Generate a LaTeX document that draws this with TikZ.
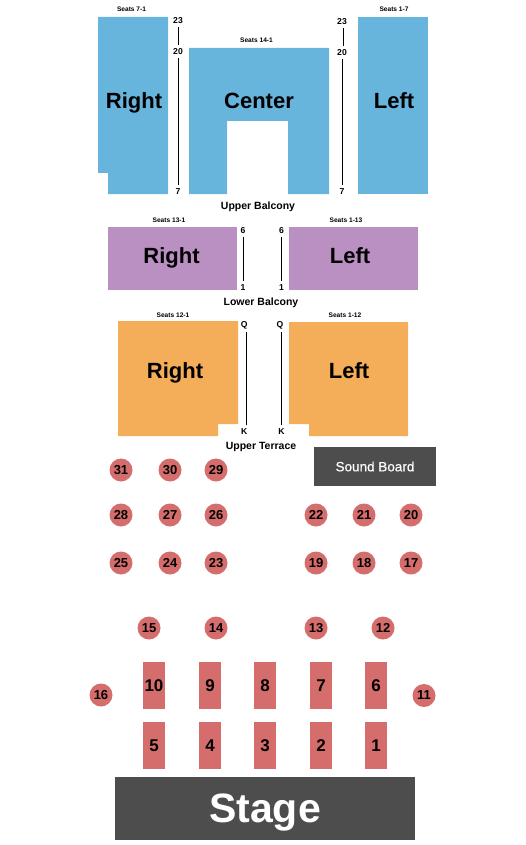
\documentclass[tikz,border=0pt]{standalone}
\usepackage{fontspec}
\setmainfont{Liberation Sans}
\newfontfamily\boardfont[FakeBold=0.4]{Liberation Sans}
\usepackage{xcolor}
\usetikzlibrary{positioning}

\definecolor{balconyblue}{HTML}{67B4DD}
\definecolor{balconypurple}{HTML}{BA90C2}
\definecolor{terraceorange}{HTML}{F4AE5A}
\definecolor{tablered}{HTML}{D66D6D}
\definecolor{blockgray}{HTML}{4D4D4D}

\begin{document}
\begin{tikzpicture}[
  x=1pt, y=-1pt,
  every node/.style={inner sep=0pt, outer sep=0pt, font=\bfseries},
  section/.style={anchor=base, font=\fontsize{22}{24}\selectfont\bfseries},
  seats/.style={anchor=base, font=\fontsize{6.6}{8}\selectfont\bfseries},
  level/.style={anchor=base, font=\fontsize{10.5}{12}\selectfont\bfseries},
  aisle/.style={font=\fontsize{8.6}{9}\selectfont\bfseries, minimum height=13pt},
  row/.style={line width=1pt, black},
  roundtable/.style={circle, fill=tablered, minimum size=23pt, font=\fontsize{13}{14}\selectfont\bfseries},
  longtable/.style={rectangle, fill=tablered, minimum width=22pt, minimum height=47pt, font=\fontsize{17}{18}\selectfont\bfseries},
]
  \useasboundingbox (0,0) rectangle (525,845);

  % upper balcony
  \fill[balconyblue] (98,17) -- (168,17) -- (168,194) -- (108,194) -- (108,173) -- (98,173) -- cycle;
  \fill[balconyblue] (189,48) -- (329,48) -- (329,194) -- (288,194) -- (288,121) -- (227,121) -- (227,194) -- (189,194) -- cycle;
  \fill[balconyblue] (358,17) rectangle (428,194);

  \node[section] (ubright) at (134,108.7) {Right};
  \node[section] (ubcenter) at (259,108.7) {Center};
  \node[section] (ubleft) at (394,108.7) {Left};
  \node[seats] (seats71) at (131.5,12) {Seats 7-1};
  \node[seats] (seats141) at (256.5,43) {Seats 14-1};
  \node[seats] (seats17) at (394,12) {Seats 1-7};
  \node[level] (upperbalcony) at (258,209) {Upper Balcony};

  \node[aisle] (rtop) at (178,20.5) {23};
  \node[aisle] (rmid) at (178,51.5) {20};
  \node[aisle] (rbot) at (178,191.5) {7};
  \node[aisle] (ltop) at (342,21.5) {23};
  \node[aisle] (lmid) at (342,52.5) {20};
  \node[aisle] (lbot) at (342,191.5) {7};
  \draw[row] (rtop.south) -- (rmid.north);
  \draw[row] (rmid.south) -- (rbot.north);
  \draw[row] ([xshift=1pt]ltop.south) -- ([xshift=1pt]lmid.north);
  \draw[row] (lmid.south) -- (lbot.north);

  % lower balcony
  \fill[balconypurple] (108,227) rectangle (237,290);
  \fill[balconypurple] (289,227) rectangle (418,290);

  \node[section] (lbright) at (171.5,263.5) {Right};
  \node[section] (lbleft) at (350,263.5) {Left};
  \node[seats] (seats131) at (169,222) {Seats 13-1};
  \node[seats] (seats113) at (346,222) {Seats 1-13};
  \node[level] (lowerbalcony) at (261,305) {Lower Balcony};

  \node[aisle] (lbrtop) at (243,230.5) {6};
  \node[aisle] (lbrbot) at (243,287.5) {1};
  \node[aisle] (lbltop) at (281.5,230.5) {6};
  \node[aisle] (lblbot) at (281.5,287.5) {1};
  \draw[row] (lbrtop) -- (lbrbot);
  \draw[row] (lbltop) -- (lblbot);

  % upper terrace
  \fill[terraceorange] (118,321) -- (238,321) -- (238,424) -- (218,424) -- (218,436) -- (118,436) -- cycle;
  \fill[terraceorange] (289,322) -- (408,322) -- (408,436) -- (309,436) -- (309,424) -- (289,424) -- cycle;

  \node[section] (utright) at (175,378.5) {Right};
  \node[section] (utleft) at (349,378.5) {Left};
  \node[seats] (seats121) at (173,317) {Seats 12-1};
  \node[seats] (seats112) at (345,317) {Seats 1-12};
  \node[level] (upperterrace) at (261,449) {Upper Terrace};

  \node[aisle] (utrtop) at (244.3,325.5) {Q};
  \node[aisle] (utrbot) at (244.3,431.5) {K};
  \node[aisle] (utltop) at (280,325.5) {Q};
  \node[aisle] (utlbot) at (281.5,431.5) {K};
  \draw[row] ([xshift=2pt]utrtop.south) -- ([xshift=2pt]utrbot.north);
  \draw[row] (utlbot.north |- utltop.south) -- (utlbot.north);

  \node[rectangle, fill=blockgray, text=white, minimum width=122pt, minimum height=39pt, font=\fontsize{13.5}{14}\selectfont\boardfont] (soundboard) at (375,466.5) {Sound Board};

  % round tables
  \node[roundtable] (t31) at (121,470) {31};
  \node[roundtable] (t30) at (170,470) {30};
  \node[roundtable] (t29) at (216,470) {29};
  \node[roundtable] (t28) at (121,515) {28};
  \node[roundtable] (t27) at (170,515) {27};
  \node[roundtable] (t26) at (216,515) {26};
  \node[roundtable] (t25) at (121,563) {25};
  \node[roundtable] (t24) at (170,563) {24};
  \node[roundtable] (t23) at (216,563) {23};
  \node[roundtable] (t22) at (316,515) {22};
  \node[roundtable] (t21) at (364,515) {21};
  \node[roundtable] (t20) at (411,515) {20};
  \node[roundtable] (t19) at (316,563) {19};
  \node[roundtable] (t18) at (364,563) {18};
  \node[roundtable] (t17) at (411,563) {17};
  \node[roundtable] (t15) at (149,628) {15};
  \node[roundtable] (t14) at (216,628) {14};
  \node[roundtable] (t13) at (316,628) {13};
  \node[roundtable] (t12) at (383,628) {12};
  \node[roundtable] (t16) at (101,695) {16};
  \node[roundtable] (t11) at (424,695.5) {11};

  % long tables
  \node[longtable] (t10) at (154,685.5) {10};
  \node[longtable, right=34pt of t10] (t9) {9};
  \node[longtable, right=33pt of t9] (t8) {8};
  \node[longtable, right=34pt of t8] (t7) {7};
  \node[longtable, right=33pt of t7] (t6) {6};
  \node[longtable, below=13pt of t10] (t5) {5};
  \node[longtable, below=13pt of t9] (t4) {4};
  \node[longtable, below=13pt of t8] (t3) {3};
  \node[longtable, below=13pt of t7] (t2) {2};
  \node[longtable, below=13pt of t6] (t1) {1};

  \node[rectangle, fill=blockgray, text=white, minimum width=300pt, minimum height=63pt, text height=36pt, text depth=9pt, font=\fontsize{41}{44}\selectfont\bfseries] (stage) at (265,808.5) {Stage};
\end{tikzpicture}
\end{document}
